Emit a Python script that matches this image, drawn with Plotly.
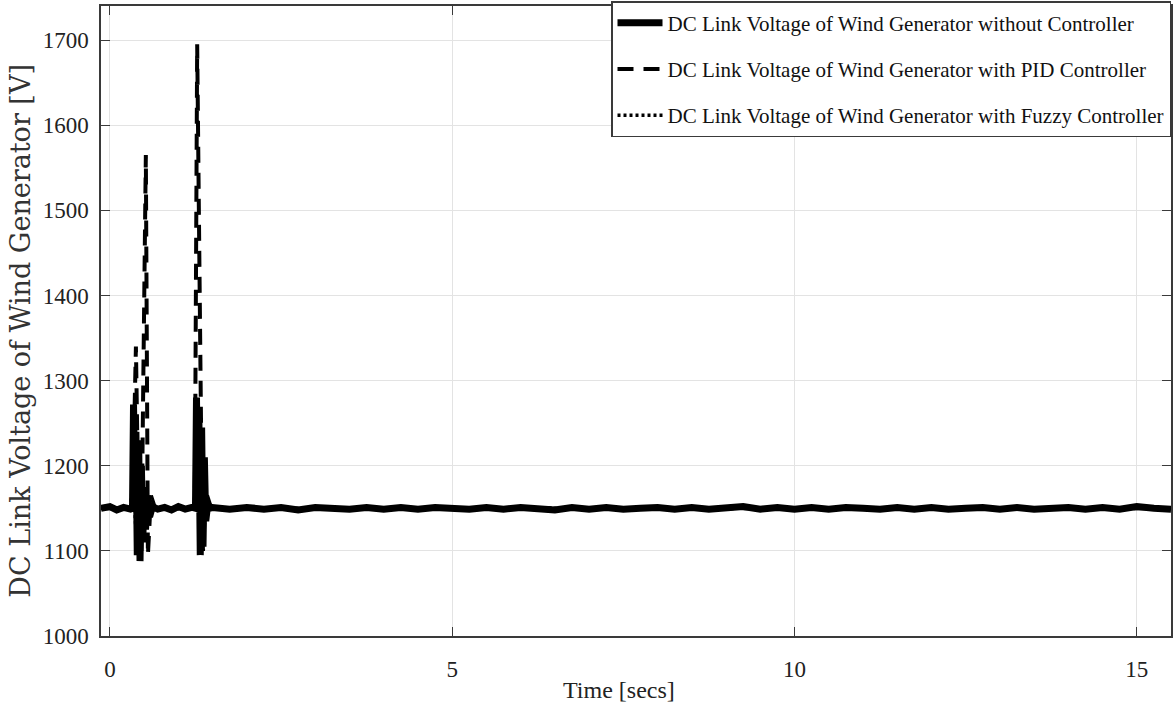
import numpy as np
import plotly.graph_objects as go

# ---------------- data ----------------
# time samples (s) for the steady baseline after the transients
t_post = [1.50, 1.75, 2.00, 2.25, 2.50, 2.75, 3.00, 3.25, 3.50, 3.75, 4.00, 4.25,
          4.50, 4.75, 5.00, 5.25, 5.50, 5.75, 6.00, 6.25, 6.50, 6.75, 7.00, 7.25,
          7.50, 7.75, 8.00, 8.25, 8.50, 8.75, 9.00, 9.25, 9.50, 9.75, 10.00, 10.25,
          10.50, 10.75, 11.00, 11.25, 11.50, 11.75, 12.00, 12.25, 12.50, 12.75, 13.00,
          13.25, 13.50, 13.75, 14.00, 14.25, 14.50, 14.75, 15.00, 15.25, 15.50]

# DC link voltage without controller (solid)
t_no = [-0.13, 0.00, 0.10, 0.20, 0.30, 0.33, 0.345, 0.36, 0.38, 0.40, 0.42, 0.44,
        0.46, 0.48, 0.50, 0.52, 0.55, 0.58, 0.62, 0.70, 0.80, 0.90, 1.00, 1.10,
        1.20, 1.25, 1.265, 1.28, 1.30, 1.32, 1.34, 1.36, 1.38, 1.40, 1.43, 1.46] + t_post
v_no = [1150, 1152, 1148, 1151, 1149, 1150, 1272, 1190, 1240, 1095, 1230, 1088,
        1200, 1110, 1175, 1125, 1165, 1140, 1152, 1149, 1151, 1148, 1152, 1149,
        1151, 1150, 1280, 1150, 1255, 1095, 1245, 1105, 1210, 1135, 1155, 1150] + \
       [1151, 1149, 1151, 1149, 1151, 1148, 1151, 1150, 1149, 1151, 1149, 1151,
        1149, 1151, 1150, 1149, 1151, 1149, 1151, 1150, 1148, 1151, 1149, 1151,
        1149, 1150, 1151, 1149, 1151, 1149, 1150, 1152, 1149, 1151, 1149, 1151,
        1149, 1151, 1150, 1149, 1151, 1149, 1151, 1149, 1150, 1151, 1149, 1151,
        1149, 1150, 1151, 1149, 1151, 1149, 1152, 1150, 1149]

# DC link voltage with PID controller (dashed)
t_pid = [-0.13, 0.30, 0.33, 0.38, 0.41, 0.46, 0.525, 0.555, 0.60, 0.66, 1.00,
         1.24, 1.275, 1.29, 1.31, 1.325, 1.345, 1.36, 1.40, 1.48, 15.50]
v_pid = [1150, 1150, 1152, 1340, 1180, 1100, 1565, 1095, 1165, 1150, 1150,
         1150, 1695, 1560, 1400, 1260, 1140, 1100, 1170, 1150, 1150]

# DC link voltage with fuzzy controller (dotted)
t_fz = [-0.13, 0.30, 0.34, 0.38, 0.42, 0.48, 0.60, 1.00, 1.25, 1.28, 1.32,
        1.36, 1.45, 15.50]
v_fz = [1150, 1150, 1185, 1125, 1170, 1140, 1150, 1150, 1150, 1190, 1120,
        1160, 1150, 1150]

names = ["DC Link Voltage of Wind Generator without Controller",
         "DC Link Voltage of Wind Generator with PID Controller",
         "DC Link Voltage of Wind Generator with Fuzzy Controller"]

x_ticks = [0, 5, 10, 15]
y_ticks = [1000, 1100, 1200, 1300, 1400, 1500, 1600, 1700]

SERIF = "Liberation Serif, Times New Roman, serif"

# ---------------- figure ----------------
fig = go.Figure()
fig.add_trace(go.Scatter(x=t_no, y=v_no, mode="lines", name=names[0],
                         legendgroup="a",
                         line=dict(color="black", width=7)))
fig.add_trace(go.Scatter(x=t_pid, y=v_pid, mode="lines", name=names[1],
                         legendgroup="b",
                         line=dict(color="black", width=4, dash="16px,10px")))
fig.add_trace(go.Scatter(x=t_fz, y=v_fz, mode="lines", name=names[2],
                         legendgroup="c",
                         line=dict(color="black", width=3.5, dash="3px,3px")))

L, R, T, B = 101, 1, 5, 75
W, H = 1174, 711
pw = W - L - R
ph = H - T - B

axis_common = dict(
    showline=True, linecolor="#3a3a3a", linewidth=1.5, mirror="ticks",
    ticks="inside", ticklen=9, tickcolor="#3a3a3a", tickwidth=1,
    showgrid=True, gridcolor="#e3e3e3", gridwidth=1, zeroline=False,
)

fig.update_xaxes(range=[-0.13, 15.5], tickvals=x_ticks,
                 ticklabelstandoff=12,
                 tickfont=dict(family=SERIF, size=23, color="#222"),
                 **axis_common)
fig.update_yaxes(range=[1000, 1740], tickvals=y_ticks,
                 ticklabelstandoff=6,
                 tickfont=dict(family=SERIF, size=23, color="#222"),
                 **axis_common)

fig.add_annotation(text="Time [secs]", xref="paper", yref="paper",
                   x=(620 - L) / pw, y=(T + ph - 690) / ph,
                   xanchor="center", yanchor="middle", showarrow=False,
                   font=dict(family=SERIF, size=24, color="#222"))
fig.add_annotation(text="DC Link Voltage of Wind Generator [V]", xref="paper",
                   yref="paper", x=(20 - L) / pw, y=(T + ph - 330) / ph,
                   xanchor="center", yanchor="middle", textangle=-90,
                   showarrow=False,
                   font=dict(family="DejaVu Serif", size=27, color="#333"))

fig.update_layout(
    width=W, height=H,
    margin=dict(l=L, r=R, t=T, b=B),
    paper_bgcolor="white", plot_bgcolor="white",
    showlegend=True,
    legend=dict(x=1.0, y=1 + T / ph, xanchor="right", yanchor="top",
                bgcolor="white", bordercolor="#3a3a3a", borderwidth=1.5,
                font=dict(family=SERIF, size=21, color="#111"),
                tracegroupgap=16, itemwidth=45),
)

fig.write_html("out.html")
